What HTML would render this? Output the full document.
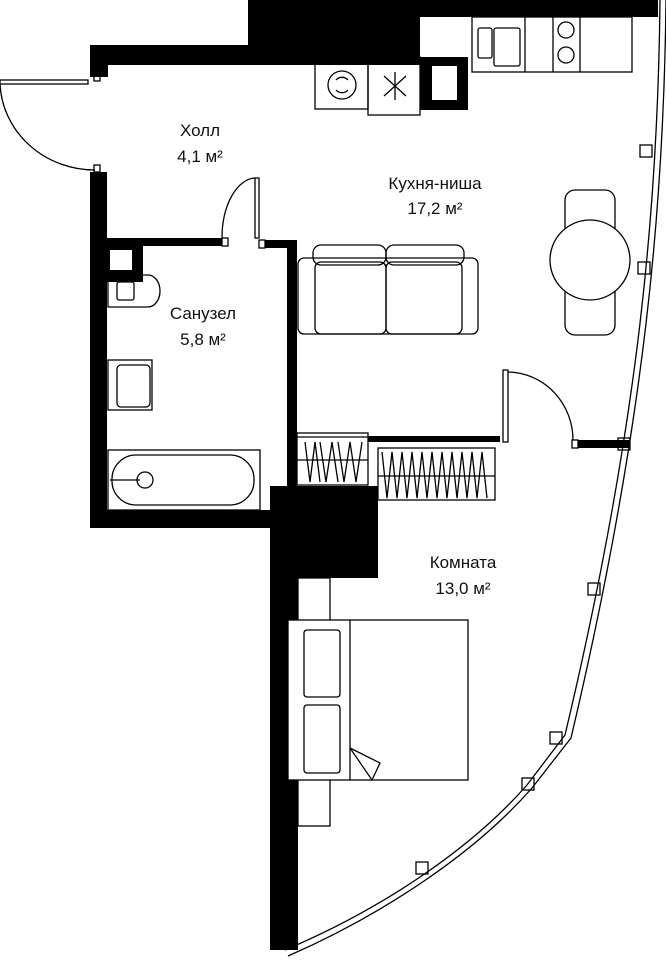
<!DOCTYPE html>
<html><head><meta charset="utf-8"><style>
html,body{margin:0;padding:0;background:#fff;}
svg{display:block}
text{font-family:"Liberation Sans",sans-serif;font-size:17px;fill:#111;text-anchor:middle}
</style></head><body>
<svg width="666" height="960" viewBox="0 0 666 960" xmlns="http://www.w3.org/2000/svg">
<g fill="#000">
<rect x="248" y="0" width="410" height="17"/>
<rect x="248" y="0" width="172" height="65"/>
<rect x="90" y="45" width="160" height="20"/>
<rect x="90" y="45" width="18" height="32"/>
<path d="M420 57h48v53h-48z M432 66v34h25v-34z" fill-rule="evenodd"/>
<rect x="90" y="172" width="17" height="356"/>
<rect x="107" y="238" width="115" height="8"/>
<rect x="265" y="240" width="32" height="8"/>
<rect x="287" y="240" width="10" height="250"/>
<path d="M107 246h36v36h-36z M110 250v20h22v-20z" fill-rule="evenodd"/>
<rect x="90" y="510" width="200" height="18"/>
<rect x="270" y="486" width="28" height="464"/>
<rect x="270" y="486" width="108" height="92"/>
<rect x="578" y="440" width="52" height="8"/>
<rect x="368" y="436" width="132" height="6"/>
</g>
<g fill="none" stroke="#000" stroke-width="1.3">
<rect x="0" y="80" width="88" height="4"/>
<path d="M0 84 A95 90 0 0 0 95 170"/>
<rect x="94" y="75" width="6" height="6"/><rect x="94" y="165" width="6" height="7"/>
<rect x="255" y="178" width="4" height="60"/>
<path d="M255 178 A34 60 0 0 0 222 238"/>
<rect x="222" y="238" width="6" height="8"/><rect x="259" y="240" width="6" height="8"/>
<rect x="315" y="57" width="53" height="52"/>
<circle cx="342" cy="85" r="14"/><path d="M336 80a8 8 0 0 1 12 0M348 90a8 8 0 0 1-12 0"/>
<rect x="368" y="57" width="52" height="58"/>
<path d="M384 76l22 20M406 76l-22 20M395 72v28"/>
<rect x="472" y="17" width="160" height="55"/>
<line x1="525" y1="17" x2="525" y2="72"/><line x1="553" y1="17" x2="553" y2="72"/><line x1="580" y1="17" x2="580" y2="72"/>
<rect x="478" y="28" width="14" height="30" rx="2"/><rect x="494" y="28" width="26" height="38" rx="2"/>
<circle cx="566" cy="30" r="8"/><circle cx="566" cy="55" r="8"/>
<rect x="298" y="258" width="180" height="76" rx="6"/>
<rect x="313" y="245" width="73" height="20" rx="8"/><rect x="386" y="245" width="78" height="20" rx="8"/>
<rect x="315" y="262" width="71" height="72" rx="6"/><rect x="386" y="262" width="76" height="72" rx="6"/>
<rect x="565" y="190" width="50" height="145" rx="10"/>
<circle cx="590" cy="260" r="40" fill="#fff"/>
<path d="M108 275h40a12 16 0 0 1 0 32h-40z"/>
<rect x="117" y="282" width="17" height="18" rx="2"/>
<rect x="108" y="360" width="44" height="50"/><rect x="117" y="365" width="33" height="42" rx="4"/>
<rect x="108" y="450" width="152" height="60"/>
<rect x="112" y="455" width="142" height="50" rx="24"/>
<circle cx="145" cy="480" r="8"/><line x1="110" y1="480" x2="140" y2="480"/>
<rect x="503" y="370" width="5" height="72"/>
<path d="M508 372 A66 68 0 0 1 573 440"/>
<rect x="572" y="440" width="6" height="8"/>
<rect x="297" y="433" width="71" height="52" fill="#fff"/>
<line x1="297" y1="437" x2="368" y2="437"/>
<line x1="297" y1="460" x2="368" y2="460"/>
<path d="M305 442l5 40l5-40l5 40M320 442l6 40l6-40l6 40M338 442l6 40l6-40l6 40l6-40"/>
<rect x="378" y="448" width="117" height="52" fill="#fff"/>
<line x1="378" y1="476" x2="495" y2="476"/>
<path d="M382 452l5 46l5-46l5 46l5-46l5 46l5-46l5 46l5-46l5 46l5-46l5 46l5-46l5 46l5-46l5 46l5-46l5 46l5-46l5 46l5-46l5 46"/>
<rect x="298" y="578" width="32" height="248"/>
<rect x="288" y="620" width="180" height="160" fill="#fff"/>
<line x1="350" y1="620" x2="350" y2="780"/>
<rect x="304" y="630" width="36" height="67" rx="3"/><rect x="304" y="705" width="36" height="68" rx="3"/>
<path d="M350 748l30 15l-8 17z"/>
<path d="M660 0 C658 200 640 420 565 735 L527 785 C470 850 380 910 285 950"/>
<path d="M666 0 C664 200 646 420 571 738 L532 788 C475 853 384 914 288 956"/>
<rect x="640" y="145" width="12" height="12"/><rect x="638" y="262" width="12" height="12"/>
<rect x="618" y="438" width="12" height="12"/><rect x="588" y="583" width="12" height="12"/>
<rect x="550" y="732" width="12" height="12"/><rect x="522" y="778" width="12" height="12"/>
<rect x="416" y="862" width="12" height="12"/>
</g>
<text x="200" y="136">Холл</text><text x="200" y="162">4,1 м²</text>
<text x="435" y="189">Кухня-ниша</text><text x="435" y="214">17,2 м²</text>
<text x="203" y="319">Санузел</text><text x="203" y="345">5,8 м²</text>
<text x="463" y="568">Комната</text><text x="463" y="594">13,0 м²</text>
</svg>
</body></html>
